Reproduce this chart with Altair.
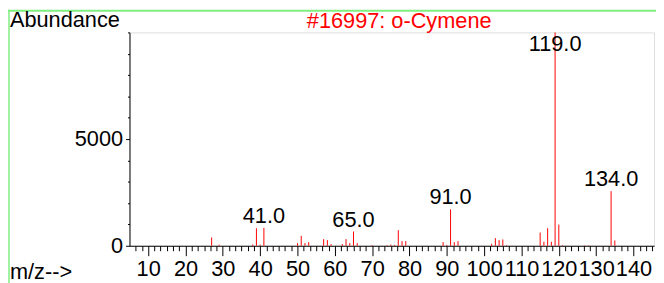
import altair as alt
import pandas as pd

# ---- data ----
mz = [27, 29, 38, 39, 40, 41, 50, 51, 52, 53, 57, 58, 59, 62, 63, 64, 65, 66,
      70, 74, 75, 76, 77, 78, 79, 89, 90, 91, 92, 93, 102, 103, 104, 105, 106,
      115, 116, 117, 118, 119, 120, 121, 127, 128, 134, 135]
abundance = [390, 50, 60, 820, 50, 840, 125, 465, 125, 170, 310, 263, 80, 80, 310, 125, 667, 125,
             30, 30, 60, 40, 730, 217, 217, 170, 40, 1707, 170, 217, 93, 357, 264, 295, 30,
             620, 186, 822, 186, 9999, 993, 30, 20, 20, 2560, 248]
label_mz = [41, 65, 91, 119, 134]
label_text = ["41.0", "65.0", "91.0", "119.0", "134.0"]
title_text = "#16997: o-Cymene"
y_title = "Abundance"
x_title = "m/z-->"
x_major = [10, 20, 30, 40, 50, 60, 70, 80, 90, 100, 110, 120, 130, 140]
y_ticks = [0, 1000, 2000, 3000, 4000, 5000, 6000, 7000, 8000, 9000, 10000]
y_labelled = [0, 5000]

FONT = "Liberation Sans"
FS = 22

x_ticks = sorted(set([round(5 + k * 10 / 6, 4) for k in range(1, 85)] + x_major))

df = pd.DataFrame({"mz": mz, "abundance": abundance})
ab_map = dict(zip(mz, abundance))
lab = pd.DataFrame({"mz": label_mz, "text": label_text,
                    "abundance": [ab_map[m] for m in label_mz]})

xscale = alt.Scale(domain=[5, 145.5], nice=False, zero=False)
yscale = alt.Scale(domain=[0, 10000], nice=False)


def make_xaxis():
    return alt.Axis(
        values=x_ticks, title=None, grid=False,
        labelExpr="datum.value % 10 == 0 ? format(datum.value, 'd') : ''",
        labelOverlap=False, labelFont=FONT, labelFontSize=FS, labelColor="black",
        labelPadding=3,
        tickSize={"condition": {"test": "datum.value % 10 == 0", "value": 10}, "value": 5},
        tickColor="black", domainColor="black", tickWidth=1, domainWidth=1,
    )


def make_yaxis():
    return alt.Axis(
        values=y_ticks, title=None, grid=False,
        labelExpr="(datum.value == 0 || datum.value == 5000) ? format(datum.value, 'd') : ''",
        labelOverlap=False, labelFont=FONT, labelFontSize=FS, labelColor="black",
        labelPadding=3,
        tickSize={"condition": {"test": "datum.value == 0 || datum.value == 5000", "value": 4}, "value": 2},
        tickColor="black", domainColor="black", tickWidth=1, domainWidth=1,
    )


bars = alt.Chart(df).mark_rule(color="#ff0000", strokeWidth=1).encode(
    x=alt.X("mz:Q", scale=xscale, axis=make_xaxis()),
    y=alt.Y("abundance:Q", scale=yscale, axis=make_yaxis()),
    y2=alt.datum(0),
)

labels = alt.Chart(lab).transform_calculate(
    ypos="min(datum.abundance, 8890)"
).mark_text(font=FONT, fontSize=FS, color="black", align="center",
            baseline="alphabetic", dy=-5).encode(
    x=alt.X("mz:Q", scale=xscale, axis=make_xaxis()),
    y=alt.Y("ypos:Q", scale=yscale, axis=make_yaxis()),
    text="text:N",
)

one = pd.DataFrame({"t": [0]})
t_abund = alt.Chart(one).mark_text(font=FONT, fontSize=FS, color="black", align="left",
                                   baseline="alphabetic", text=y_title).encode(
    x=alt.value(-121), y=alt.value(-5))
t_title = alt.Chart(one).mark_text(font=FONT, fontSize=FS, color="#ff0000", align="center",
                                   baseline="alphabetic", text=title_text).encode(
    x=alt.value(273), y=alt.value(-4))
t_mz = alt.Chart(one).mark_text(font=FONT, fontSize=FS, color="black", align="left",
                                baseline="alphabetic", text=x_title).encode(
    x=alt.value(-121), y=alt.value(250))

frame_left = alt.Chart(one).mark_rule(color="#80ee80", strokeWidth=1.5).encode(
    x=alt.value(-122), y=alt.value(-23), y2=alt.value(260))
frame_top = alt.Chart(one).mark_rule(color="#80ee80", strokeWidth=2).encode(
    x=alt.value(-123), x2=alt.value(540), y=alt.value(-22))

chart = alt.layer(frame_left, frame_top, bars, labels, t_abund, t_title, t_mz).properties(
    width=531, height=216,
    padding={"left": 123, "top": 23, "right": 2, "bottom": 36},
    autosize=alt.AutoSizeParams(type="none"),
).configure_view(stroke=None).configure(background="white")

chart.save("out.html", embed_options={"renderer": "svg", "actions": False})
